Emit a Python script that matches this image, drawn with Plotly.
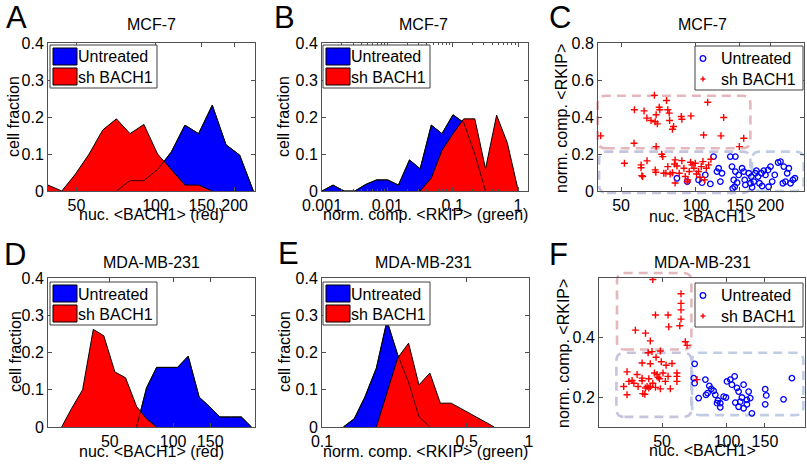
import math
import plotly.graph_objects as go

W, H = 807, 465
FONT = "Liberation Sans, Arial, Helvetica, sans-serif"
FS = 16
AX = "#505050"
BLUE = "#0000ff"
RED = "#ff0000"
NAMES = ["Untreated", "sh BACH1"]

# ---------------- DATA ----------------
# A: MCF-7, nuc. <BACH1> (red) histogram
a_untr_x = [71.0, 80.0, 90.3, 101.8, 114.7, 129.4, 145.8, 164.4, 185.4, 209.0, 235.6]
a_untr_y = [0, 0.028, 0.028, 0.058, 0.105, 0.178, 0.155, 0.232, 0.125, 0.097, 0]
a_sh_x = [39.0, 44.0, 49.5, 55.9, 63.0, 71.0, 80.0, 90.3, 101.8, 114.7, 129.4, 145.8, 164.4]
a_sh_y = [0.016, 0, 0.045, 0.10, 0.165, 0.195, 0.155, 0.18, 0.10, 0.057, 0.016, 0.016, 0]

# B: MCF-7, norm. comp. <RKIP> (green) histogram
b_untr_x = [0.001, 0.001476, 0.00218, 0.00318, 0.0047, 0.00686, 0.0101, 0.01476,
            0.0218, 0.0318, 0.047, 0.0686, 0.101, 0.1476, 0.218, 0.318]
b_untr_y = [0, 0.016, 0, 0, 0.018, 0.03, 0.03, 0.016, 0.084, 0.06, 0.178, 0.155,
            0.206, 0.185, 0.10, 0]
b_sh_x = [0.0318, 0.047, 0.0686, 0.101, 0.1476, 0.218, 0.318, 0.47, 0.686, 1.01]
b_sh_y = [0, 0.035, 0.11, 0.155, 0.195, 0.195, 0.06, 0.205, 0.13, 0]

# C: MCF-7 scatter, nuc. <BACH1> vs norm. comp. <RKIP>
c_untr_x = [83.9, 92.3, 102.5, 105.8, 109.1, 114.3, 117.8, 121.5, 123.4, 125.4, 127.3,
            137.5, 139.6, 144.1, 144.1, 141.9, 146.4, 148.6, 153.3, 155.7, 157.1, 158.1,
            140.6, 143.2, 165.7, 168.2, 170.9, 173.4, 175.1, 177.8, 180.1, 183.4, 187.5,
            190.4, 195.0, 199.5, 202.6, 207.5, 214.1, 218.8, 225.7, 223.6, 229.1, 232.8,
            236.4, 240.1, 245.5, 250.0, 163.1, 166.9, 184.5, 196.0]
c_untr_y = [0.069, 0.051, 0.060, 0.045, 0.087, 0.038, 0.186, 0.105, 0.123, 0.051, 0.096,
            0.186, 0.132, 0.186, 0.105, 0.060, 0.045, 0.087, 0.123, 0.105, 0.060, 0.033,
            0.014, 0.023, 0.042, 0.020, 0.051, 0.096, 0.110, 0.078, 0.042, 0.096, 0.110,
            0.087, 0.114, 0.132, 0.051, 0.087, 0.154, 0.159, 0.132, 0.042, 0.051, 0.096,
            0.123, 0.042, 0.060, 0.069, 0.096, 0.078, 0.027, 0.023]
c_sh_x = [41.4, 56.6, 61.9, 63.5, 66.0, 68.6, 70.0, 69.2, 71.2, 71.6, 76.2, 77.1, 78.1,
          78.4, 80.5, 81.3, 87.3, 87.8, 95.5, 111.5, 107.4, 126.1, 129.3, 155.7, 149.5,
          56.4, 69.2, 68.1,
          51.6, 60.2, 60.2, 60.6, 61.1, 63.6, 68.6, 69.0, 72.9, 73.6, 74.3, 75.7, 77.1,
          78.8, 80.5, 82.0, 82.5, 83.9, 85.7, 87.8, 89.5, 90.6, 92.8, 94.0, 95.2, 96.4,
          98.2, 99.4, 100.6, 102.5, 103.8, 105.1, 106.7, 108.4, 110.1, 112.5, 114.9,
          82.5, 92.3]
c_sh_y = [0.298, 0.439, 0.433, 0.394, 0.381, 0.374, 0.363, 0.412, 0.453, 0.439, 0.489,
          0.439, 0.421, 0.381, 0.334, 0.349, 0.403, 0.388, 0.406, 0.480, 0.303, 0.298,
          0.397, 0.285, 0.240, 0.258, 0.240, 0.517,
          0.150, 0.141, 0.126, 0.083, 0.078, 0.163, 0.114, 0.101, 0.199, 0.186, 0.096,
          0.096, 0.132, 0.092, 0.099, 0.146, 0.168, 0.135, 0.096, 0.164, 0.123, 0.078,
          0.060, 0.105, 0.155, 0.141, 0.123, 0.150, 0.092, 0.105, 0.074, 0.132, 0.159,
          0.060, 0.123, 0.141, 0.172, 0.043, 0.050]

# D: MDA-MB-231, nuc. <BACH1> (red) histogram
d_untr_x = [67.0, 74.7, 83.4, 93.0, 104.9, 117.9, 133.0, 149.4, 166.7, 189.4, 211.0, 235.8]
d_untr_y = [0, 0.105, 0.16, 0.16, 0.16, 0.19, 0.08, 0.054, 0.027, 0.027, 0.027, 0]
d_sh_x = [29.5, 32.9, 37.1, 41.7, 46.8, 52.8, 59.4, 67.0, 74.7, 83.4]
d_sh_y = [0, 0.05, 0.10, 0.262, 0.245, 0.148, 0.132, 0.055, 0.022, 0]

# E: MDA-MB-231, norm. comp. <RKIP> (green) histogram
e_untr_x = [0.1268, 0.1431, 0.161, 0.183, 0.206, 0.232, 0.262, 0.294, 0.332]
e_untr_y = [0, 0.022, 0.08, 0.158, 0.285, 0.194, 0.12, 0.028, 0]
e_sh_x = [0.183, 0.206, 0.232, 0.262, 0.294, 0.332, 0.373, 0.421, 0.475, 0.536, 0.605, 0.680]
e_sh_y = [0, 0.09, 0.185, 0.225, 0.113, 0.145, 0.064, 0.064, 0.048, 0.032, 0.016, 0]

# F: MDA-MB-231 scatter
f_untr_x = [70.8, 70.1, 70.8, 79.4, 73.9, 79.9, 81.3, 82.8, 84.6, 86.7, 88.3, 89.9, 90.8,
            93.1, 93.1, 96.5, 98.9, 100.0, 103.6, 108.5, 105.4, 111.2, 113.2, 115.2, 117.3,
            119.4, 113.2, 119.4, 123.7, 126.0, 123.7, 128.2, 130.5, 109.3, 150.4, 152.1,
            150.4, 182.9, 200.0]
f_untr_y = [0.312, 0.264, 0.247, 0.259, 0.197, 0.208, 0.214, 0.238, 0.228, 0.221, 0.208,
            0.180, 0.189, 0.180, 0.166, 0.202, 0.199, 0.253, 0.259, 0.270, 0.242, 0.231,
            0.219, 0.185, 0.199, 0.242, 0.168, 0.163, 0.191, 0.219, 0.176, 0.197, 0.146,
            0.182, 0.227, 0.206, 0.176, 0.193, 0.264]
f_sh_x = [45.3, 61.2, 61.2, 61.2, 46.6, 53.3, 53.7, 61.2, 60.4, 37.6, 41.9, 44.1, 64.1,
          65.3, 43.1, 44.9, 49.1, 46.9, 40.4, 44.1, 49.6, 52.2, 55.6, 34.4, 38.3, 40.4,
          43.4, 47.4, 47.9, 48.6, 50.5, 58.6, 58.6, 33.2, 35.1, 36.3, 37.0, 38.7, 40.4,
          41.9, 42.6, 41.6, 43.4, 44.1, 45.3, 46.6, 49.1, 51.8, 54.6, 58.6, 34.4, 40.7,
          72.6, 53.3, 46.1]
f_sh_y = [0.595, 0.547, 0.515, 0.493, 0.476, 0.476, 0.436, 0.462, 0.440, 0.425, 0.415,
          0.389, 0.386, 0.374, 0.349, 0.353, 0.355, 0.334, 0.315, 0.312, 0.319, 0.307,
          0.313, 0.285, 0.276, 0.264, 0.262, 0.276, 0.267, 0.262, 0.281, 0.281, 0.270,
          0.236, 0.253, 0.256, 0.247, 0.236, 0.255, 0.231, 0.236, 0.210, 0.231, 0.236,
          0.247, 0.233, 0.228, 0.253, 0.228, 0.253, 0.208, 0.212, 0.259, 0.270, 0.281]

# Highlight boxes (data units): x range, y range, colour
c_boxes = [([40.3, 165.6], [0.231, 0.515], "rgba(222,170,176,0.85)"),
           ([40.8, 165.6], [-0.01, 0.213], "rgba(190,190,218,0.9)"),
           ([168.0, 271.0], [0.0, 0.213], "rgba(184,200,226,0.9)")]
f_boxes = [([30.9, 68.4], [0.360, 0.617], "rgba(222,170,176,0.85)"),
           ([30.7, 68.4], [0.134, 0.349], "rgba(190,190,218,0.9)"),
           ([68.9, 226.0], [0.140, 0.349], "rgba(184,200,226,0.9)")]

# ---------------- LAYOUT ----------------
# panel pixel boxes: (x0, x1, y0_top, y1_bottom)
P = {
    1: (48, 255, 43, 191),
    2: (322, 528, 43, 191),
    3: (598, 804, 43, 191),
    4: (48, 255, 278, 427),
    5: (322, 529, 278, 427),
    6: (599, 805, 278, 427),
}
XR = {1: [math.log10(39), math.log10(239)],
      2: [-3, math.log10(1.42)],
      3: [math.log10(40.4), math.log10(272)],
      4: [math.log10(25.4), math.log10(245)],
      5: [-1, 0],
      6: [math.log10(25.5), math.log10(230)]}
YR = {1: [0, 0.4], 2: [0, 0.4], 3: [0, 0.8], 4: [0, 0.4], 5: [0, 0.4], 6: [0.1, 0.6]}
XT = {1: [50, 100, 150, 200], 2: [0.001, 0.01, 0.1, 1], 3: [50, 100, 150, 200],
      4: [50, 100, 150], 5: [0.1, 0.5, 1], 6: [50, 100, 150]}
XTT = {1: ["50", "100", "150", "200"], 2: ["0.001", "0.01", "0.1", "1"],
       3: ["50", "100", "150", "200"], 4: ["50", "100", "150"], 5: ["0.1", "0.5", "1"],
       6: ["50", "100", "150"]}
YT = {1: [0, 0.1, 0.2, 0.3, 0.4], 2: [0, 0.1, 0.2, 0.3, 0.4], 3: [0, 0.2, 0.4, 0.6, 0.8],
      4: [0, 0.1, 0.2, 0.3, 0.4], 5: [0, 0.1, 0.2, 0.3, 0.4], 6: [0.2, 0.4]}


def ax_id(n, c):
    return c if n == 1 else f"{c}{n}"


fig = go.Figure()
layout = dict(template="none", width=W, height=H, margin=dict(l=0, r=0, t=0, b=0, pad=0),
              autosize=False, paper_bgcolor="white", plot_bgcolor="rgba(0,0,0,0)",
              showlegend=False, font=dict(family=FONT, size=FS, color="black"))

for n, (x0, x1, y0, y1) in P.items():
    xa = dict(domain=[x0 / W, x1 / W], type="log", range=XR[n], tickmode="array",
              tickvals=XT[n], ticktext=XTT[n], ticks="inside", ticklen=4, tickcolor=AX,
              showline=True, linecolor=AX, linewidth=1, mirror="ticks", showgrid=False,
              zeroline=False, anchor=ax_id(n, "y"), fixedrange=True, automargin=False,
              tickfont=dict(family=FONT, size=FS, color="black"))
    if n == 2:
        xa["minor"] = dict(ticks="inside", ticklen=2, tickcolor=AX, showgrid=False,
                           tickmode="array",
                           tickvals=[m * 10 ** e for e in (-3, -2, -1) for m in range(2, 10)])
    ya = dict(domain=[1 - y1 / H, 1 - y0 / H], type="linear", range=YR[n], tickmode="array",
              tickvals=YT[n], ticks="inside", ticklen=4, tickcolor=AX, showline=True,
              linecolor=AX, linewidth=1, mirror="ticks", showgrid=False, zeroline=False,
              anchor=ax_id(n, "x"), fixedrange=True, automargin=False,
              tickfont=dict(family=FONT, size=FS, color="black"))
    layout["xaxis" if n == 1 else f"xaxis{n}"] = xa
    layout["yaxis" if n == 1 else f"yaxis{n}"] = ya


def add_hist(n, ux, uy, sx, sy):
    kw = dict(xaxis=ax_id(n, "x"), yaxis=ax_id(n, "y"), mode="lines", hoverinfo="skip")
    fig.add_trace(go.Scatter(x=ux, y=uy, fill="tozeroy", fillcolor=BLUE,
                             line=dict(color="black", width=1), name=NAMES[0], **kw))
    fig.add_trace(go.Scatter(x=sx, y=sy, fill="tozeroy", fillcolor=RED,
                             line=dict(color="black", width=1), name=NAMES[1], **kw))
    fig.add_trace(go.Scatter(x=ux, y=uy, line=dict(color="black", width=0.8),
                             name=NAMES[0], **kw))


def add_scatter(n, ux, uy, sx, sy):
    kw = dict(xaxis=ax_id(n, "x"), yaxis=ax_id(n, "y"), mode="markers", hoverinfo="skip")
    fig.add_trace(go.Scatter(x=ux, y=uy, name=NAMES[0],
                             marker=dict(symbol="circle-open", size=5.5, color=BLUE,
                                         line=dict(width=1.3, color=BLUE)), **kw))
    fig.add_trace(go.Scatter(x=sx, y=sy, name=NAMES[1],
                             marker=dict(symbol="cross-thin-open", size=5, color=RED,
                                         line=dict(width=1.4, color=RED)), **kw))


add_hist(1, a_untr_x, a_untr_y, a_sh_x, a_sh_y)
add_hist(2, b_untr_x, b_untr_y, b_sh_x, b_sh_y)
add_scatter(3, c_untr_x, c_untr_y, c_sh_x, c_sh_y)
add_hist(4, d_untr_x, d_untr_y, d_sh_x, d_sh_y)
add_hist(5, e_untr_x, e_untr_y, e_sh_x, e_sh_y)
add_scatter(6, f_untr_x, f_untr_y, f_sh_x, f_sh_y)

shapes = []
annotations = []


def xp(v):
    return v / W


def yp(v):
    return 1 - v / H


# rounded dashed boxes (in axis-domain fractions)
def rounded_box(n, bx, by, color, r=8):
    x0p, x1p, y0p, y1p = P[n]
    lo, hi = XR[n]
    ylo, yhi = YR[n]
    fx0 = (math.log10(bx[0]) - lo) / (hi - lo)
    fx1 = (math.log10(bx[1]) - lo) / (hi - lo)
    fy0 = (by[0] - ylo) / (yhi - ylo)
    fy1 = (by[1] - ylo) / (yhi - ylo)
    rx = r / (x1p - x0p)
    ry = r / (y1p - y0p)
    path = (f"M{fx0 + rx},{fy0} L{fx1 - rx},{fy0} Q{fx1},{fy0} {fx1},{fy0 + ry} "
            f"L{fx1},{fy1 - ry} Q{fx1},{fy1} {fx1 - rx},{fy1} L{fx0 + rx},{fy1} "
            f"Q{fx0},{fy1} {fx0},{fy1 - ry} L{fx0},{fy0 + ry} Q{fx0},{fy0} {fx0 + rx},{fy0} Z")
    shapes.append(dict(type="path", path=path, xref=f"{ax_id(n, 'x')} domain",
                       yref=f"{ax_id(n, 'y')} domain", layer="below",
                       line=dict(color=color, width=2.6, dash="9px,6px")))


for bx, by, col in c_boxes:
    rounded_box(3, bx, by, col)
for bx, by, col in f_boxes:
    rounded_box(6, bx, by, col)


def rect(x0, y0, x1, y1, fill, line="#404040", width=1):
    shapes.append(dict(type="rect", xref="paper", yref="paper", x0=xp(x0), x1=xp(x1),
                       y0=yp(y1), y1=yp(y0), fillcolor=fill, layer="above",
                       line=dict(color=line, width=width)))


def text(x, y, s, size=FS, xanchor="center", angle=0):
    annotations.append(dict(x=xp(x), y=yp(y), xref="paper", yref="paper", text=s,
                            showarrow=False, xanchor=xanchor, yanchor="middle",
                            textangle=angle, font=dict(family=FONT, size=size, color="black")))


# histogram legends
for (lx, ly) in [(50, 45), (323, 45), (50, 282), (323, 282)]:
    rect(lx, ly, lx + 107, ly + 43, "white")
    rect(lx + 3, ly + 3, lx + 27, ly + 20, BLUE, line="black")
    rect(lx + 3, ly + 23, lx + 27, ly + 40, RED, line="black")
    text(lx + 26, ly + 12, NAMES[0], xanchor="left")
    text(lx + 26, ly + 32.5, NAMES[1], xanchor="left")

# scatter legends
for (lx, ly) in [(695, 46), (695, 283)]:
    rect(lx, ly, lx + 108, ly + 44, "white")
    cx, cy = lx + 8, ly + 12.5
    shapes.append(dict(type="circle", xref="paper", yref="paper", x0=xp(cx - 2.8), x1=xp(cx + 2.8),
                       y0=yp(cy + 2.8), y1=yp(cy - 2.8), layer="above",
                       line=dict(color=BLUE, width=1.3)))
    cy2 = ly + 33
    shapes.append(dict(type="line", xref="paper", yref="paper", x0=xp(cx - 2.5), x1=xp(cx + 2.5),
                       y0=yp(cy2), y1=yp(cy2), layer="above", line=dict(color=RED, width=1.4)))
    shapes.append(dict(type="line", xref="paper", yref="paper", x0=xp(cx), x1=xp(cx),
                       y0=yp(cy2 - 2.5), y1=yp(cy2 + 2.5), layer="above",
                       line=dict(color=RED, width=1.4)))
    text(lx + 24, cy, NAMES[0], xanchor="left")
    text(lx + 24, cy2, NAMES[1], xanchor="left")

# panel letters
for s, x, y in [("A", 16, 17), ("B", 284, 17), ("C", 560, 18),
                ("D", 15, 254), ("E", 288, 253), ("F", 558, 254)]:
    text(x, y, s, size=31)

# titles
for s, x, y in [("MCF-7", 151.5, 25), ("MCF-7", 423, 25), ("MCF-7", 702, 24),
                ("MDA-MB-231", 151.5, 262), ("MDA-MB-231", 424, 262), ("MDA-MB-231", 702, 262)]:
    text(x, y, s)

# axis titles
for s, x, y in [("nuc. &lt;BACH1&gt; (red)", 151.5, 214),
                ("norm. comp. &lt;RKIP&gt; (green)", 425, 214),
                ("nuc. &lt;BACH1&gt;", 702, 216),
                ("nuc. &lt;BACH1&gt; (red)", 151.5, 451),
                ("norm. comp. &lt;RKIP&gt; (green)", 425, 451),
                ("nuc. &lt;BACH1&gt;", 702, 450)]:
    text(x, y, s)
for s, x, y in [("cell fraction", 14, 117), ("cell fraction", 284, 117),
                ("norm. comp. &lt;RKIP&gt;", 562, 119), ("cell fraction", 15, 352),
                ("cell fraction", 284, 352), ("norm. comp. &lt;RKIP&gt;", 563, 354)]:
    text(x, y, s, angle=-90)

layout["shapes"] = shapes
layout["annotations"] = annotations
fig.update_layout(**layout)
fig.write_html("out.html",
               config={"displayModeBar": False, "staticPlot": True},
               post_script="document.body.style.margin='0';document.body.style.overflow='hidden';")
